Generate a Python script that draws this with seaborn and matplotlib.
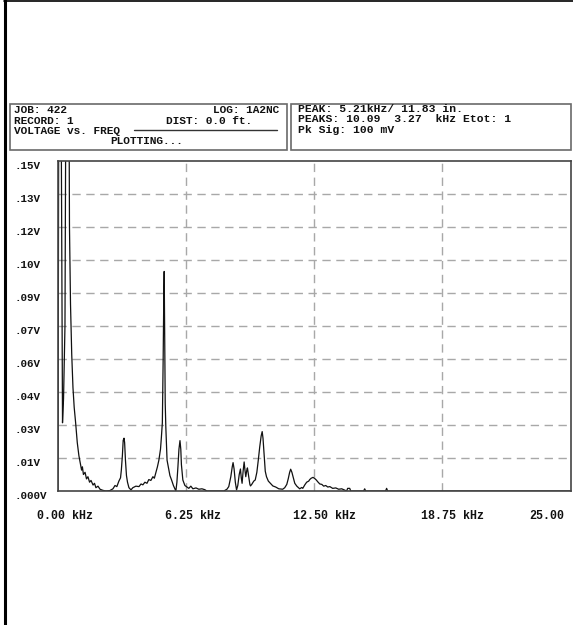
import matplotlib
matplotlib.use("Agg")
import matplotlib.pyplot as plt
import matplotlib.transforms as mtransforms
from matplotlib.lines import Line2D
from matplotlib.patches import Rectangle
import seaborn as sns
import pandas as pd

# ---------------- data ----------------
freq_khz = [0.00, 0.05, 0.12, 0.22, 0.27, 0.34, 0.41, 0.51, 0.56, 0.61, 0.67, 0.73, 0.79, 0.86,
            0.94, 1.02, 1.10, 1.15, 1.19, 1.24, 1.32, 1.39, 1.46, 1.54, 1.61, 1.71, 1.78, 1.85,
            1.95, 2.05, 2.19, 2.34, 2.53, 2.68, 2.78, 2.87, 2.97, 3.05, 3.09, 3.14, 3.18, 3.22,
            3.25, 3.29, 3.34, 3.39, 3.46, 3.56, 3.65, 3.80, 3.95, 4.05, 4.14, 4.24, 4.34, 4.43,
            4.53, 4.63, 4.70, 4.78, 4.85, 4.92, 5.00, 5.04, 5.09, 5.13, 5.16, 5.18, 5.21, 5.23,
            5.26, 5.32, 5.38, 5.46, 5.54, 5.63, 5.70, 5.75, 5.80, 5.85, 5.90, 5.95, 5.99, 6.02,
            6.09, 6.19, 6.29, 6.38, 6.48, 6.58, 6.73, 6.87, 7.02, 7.16, 7.26, 8.09, 8.24, 8.33,
            8.43, 8.50, 8.54, 8.59, 8.65, 8.71, 8.77, 8.84, 8.90, 8.94, 8.98, 9.03, 9.08, 9.12,
            9.16, 9.21, 9.24, 9.29, 9.36, 9.39, 9.45, 9.55, 9.62, 9.70, 9.77, 9.84, 9.91, 9.96,
            10.00, 10.06, 10.11, 10.17, 10.26, 10.36, 10.48, 10.62, 10.77, 10.96, 11.06, 11.16,
            11.23, 11.30, 11.35, 11.41, 11.48, 11.55, 11.65, 11.79, 11.89, 11.94, 12.04, 12.13,
            12.23, 12.28, 12.35, 12.44, 12.52, 12.60, 12.67, 12.77, 12.87, 12.96, 13.06, 13.16,
            13.26, 13.40, 13.55, 13.69, 13.84, 13.99, 14.08, 14.13, 14.23, 14.28, 14.91, 14.96,
            15.01, 15.98, 16.03, 16.08, 25.00]
voltage_v = [0.0, 0.25, 0.25, 0.031, 0.042, 0.075, 0.25, 0.25, 0.12, 0.085, 0.062, 0.047, 0.038, 0.031,
             0.022, 0.016, 0.012, 0.0095, 0.011, 0.0075, 0.0085, 0.0055, 0.0065, 0.004, 0.0048, 0.0027, 0.0035, 0.0015,
             0.0022, 0.0008, 0.0003, 0.0, 0.0002, 0.0010, 0.0025, 0.0020, 0.0045, 0.006, 0.0095, 0.016, 0.023, 0.024,
             0.022, 0.014, 0.007, 0.004, 0.0015, 0.0005, 0.0015, 0.0022, 0.0020, 0.0032, 0.0028, 0.0040, 0.0035, 0.0052,
             0.0048, 0.0065, 0.0058, 0.0085, 0.011, 0.014, 0.019, 0.024, 0.031, 0.060, 0.088, 0.0998, 0.065, 0.040,
             0.029, 0.014, 0.011, 0.007, 0.005, 0.0025, 0.001, 0.0, 0.004, 0.011, 0.019, 0.0229, 0.019, 0.012,
             0.005, 0.0025, 0.0018, 0.0012, 0.0022, 0.0010, 0.0014, 0.0008, 0.0010, 0.0006, 0.0, 0.0, 0.0008, 0.002,
             0.0065, 0.011, 0.0129, 0.010, 0.004, 0.0005, 0.0025, 0.0075, 0.010, 0.006, 0.0035, 0.009, 0.0132, 0.0095,
             0.0065, 0.0095, 0.0105, 0.0075, 0.003, 0.0023, 0.0030, 0.0045, 0.0050, 0.0085, 0.014, 0.020, 0.025, 0.027,
             0.024, 0.016, 0.009, 0.0065, 0.0045, 0.0035, 0.0023, 0.0018, 0.0010, 0.0008, 0.0015, 0.003,
             0.0055, 0.0085, 0.0099, 0.0085, 0.006, 0.0035, 0.0022, 0.0010, 0.0016, 0.0012, 0.0028, 0.0040,
             0.0045, 0.0052, 0.0058, 0.0062, 0.0057, 0.0050, 0.0042, 0.0032, 0.0030, 0.0022, 0.0025, 0.0018,
             0.0020, 0.0012, 0.0014, 0.0008, 0.0010, 0.0004, 0.0, 0.0012, 0.0012, 0.0, 0.0, 0.0010,
             0.0, 0.0, 0.0012, 0.0, 0.0]

x_ticks = [0.0, 6.25, 12.5, 18.75, 25.0]
x_tick_labels = ["0.00 kHz", "6.25 kHz", "12.50 kHz", "18.75 kHz", "25.00"]
y_ticks = [0.0, 0.015, 0.03, 0.045, 0.06, 0.075, 0.09, 0.105, 0.12, 0.135, 0.15]
y_tick_labels = [".000V", ".01V", ".03V", ".04V", ".06V", ".07V", ".09V", ".10V", ".12V", ".13V", ".15V"]

header_left = ["JOB: 422", "RECORD: 1", "VOLTAGE vs. FREQ", "PLOTTING..."]
header_left_right = ["LOG: 1A2NC", "DIST: 0.0 ft."]
header_right = ["PEAK: 5.21kHz/ 11.83 in.", "PEAKS: 10.09  3.27  kHz Etot: 1", "Pk Sig: 100 mV"]

# ---------------- figure ----------------
W, H = 573, 625
DPI = 100
sns.set_style("white")
plt.rcParams["font.family"] = ["Liberation Mono", "DejaVu Sans Mono"]
plt.rcParams["font.weight"] = "bold"

fig = plt.figure(figsize=(W / DPI, H / DPI), dpi=DPI)
fig.patch.set_facecolor("white")


def fx(px):
    return px / W


def fy(py):
    return 1 - py / H


# axes: x 58..570.5, y 161..491
ax = fig.add_axes([fx(58), fy(491), fx(570.5) - fx(58), fy(161) - fy(491)])

df = pd.DataFrame({"freq": freq_khz, "volt": voltage_v})
sns.lineplot(data=df, x="freq", y="volt", ax=ax, color="#111111", linewidth=0.9,
             estimator=None, sort=False)

ax.set_xlim(0, 25)
ax.set_ylim(0, 0.15)
ax.set_xlabel("")
ax.set_ylabel("")

grid_kw = dict(color="#a8a8a8", linewidth=1.0, dashes=(6, 4))
ax.set_xticks(x_ticks, x_tick_labels)
ax.set_yticks(y_ticks, y_tick_labels)
for v in x_ticks[1:-1]:
    ax.axvline(v, **grid_kw, zorder=0)
for v in y_ticks[1:-1]:
    ax.axhline(v, **grid_kw, zorder=0)

ax.tick_params(axis="x", length=8, width=1.0, color="#a8a8a8", direction="out", pad=6,
               labelsize=8.4)
ax.tick_params(axis="y", length=0, pad=31, labelsize=7.8)
xt = ax.xaxis.get_major_ticks()
xt[0].tick1line.set_visible(False)
xt[-1].tick1line.set_visible(False)

for lbl in ax.get_yticklabels():
    lbl.set_ha("left")
    lbl.set_va("top")
    lbl.set_fontweight("bold")
    lbl.set_color("#111111")

xl = ax.get_xticklabels()
for i, lbl in enumerate(xl):
    lbl.set_ha("left")
    lbl.set_fontweight("bold")
    lbl.set_color("#111111")
    shift = -41 if i == len(xl) - 1 else -21
    lbl.set_transform(lbl.get_transform() +
                      mtransforms.ScaledTranslation(shift / DPI, 0, fig.dpi_scale_trans))

for s in ax.spines.values():
    s.set_color("#444444")
    s.set_linewidth(1.2)

# ---------------- page decorations ----------------
fig.add_artist(Line2D([fx(5.2), fx(5.2)], [0, 1], color="black", linewidth=2.2,
                      transform=fig.transFigure))
fig.add_artist(Line2D([fx(4), 1], [fy(0.7), fy(0.7)], color="black", linewidth=1.2,
                      transform=fig.transFigure))

box_kw = dict(fill=False, edgecolor="#6a6a6a", linewidth=1.2, transform=fig.transFigure)
fig.add_artist(Rectangle((fx(10), fy(150)), fx(287) - fx(10), fy(104) - fy(150), **box_kw))
fig.add_artist(Rectangle((fx(291), fy(150)), fx(570.5) - fx(291), fy(104) - fy(150), **box_kw))

tkw = dict(fontsize=8.0, fontweight="bold", color="#111111", va="center")
fig.text(fx(14), fy(110), header_left[0], ha="left", **tkw)
fig.text(fx(14), fy(120.5), header_left[1], ha="left", **tkw)
fig.text(fx(14), fy(131), header_left[2], ha="left", **tkw)
fig.text(fx(110), fy(141.5), header_left[3], ha="left", **tkw)
fig.text(fx(279), fy(110), header_left_right[0], ha="right", **tkw)
fig.text(fx(252), fy(120.5), header_left_right[1], ha="right", **tkw)
fig.add_artist(Line2D([fx(134), fx(277)], [fy(130), fy(130)], color="#333333", linewidth=1.0,
                      transform=fig.transFigure))

tkw2 = dict(tkw, fontsize=8.2)
fig.text(fx(298), fy(109.5), header_right[0], ha="left", **tkw2)
fig.text(fx(298), fy(119.5), header_right[1], ha="left", **tkw2)
fig.text(fx(298), fy(129.5), header_right[2], ha="left", **tkw2)

fig.savefig("out.png", dpi=DPI, facecolor="white")
